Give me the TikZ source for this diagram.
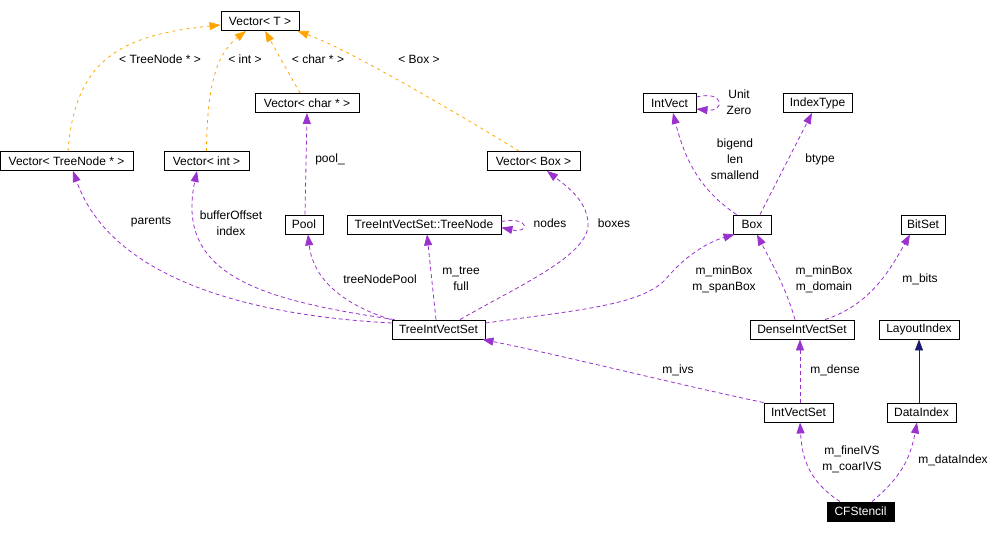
\documentclass[tikz,border=0pt]{standalone}
\usepackage{fontspec}
\setmainfont{Liberation Sans}
\usetikzlibrary{arrows.meta,calc}
\definecolor{dorange}{RGB}{255,165,0}
\definecolor{dpurple}{RGB}{154,50,205}
\definecolor{dnavy}{RGB}{25,25,112}
\begin{document}
\begin{tikzpicture}[x=1pt,y=-1pt,
  every node/.style={font=\fontsize{12}{16}\selectfont},
  cls/.style={draw=black, line width=0.9pt, minimum height=19pt, inner sep=0pt, fill=white},
  lbl/.style={inner sep=0pt, align=center},
  tmpl/.style={draw=dorange, line width=0.8pt, dash pattern=on 3pt off 4pt, -{Triangle[length=11pt,width=8pt,fill=dorange]}},
  use/.style={draw=dpurple, line width=0.8pt, dash pattern=on 4pt off 3pt, -{Triangle[length=11pt,width=8pt,fill=dpurple]}},
  inh/.style={draw=dnavy, line width=0.9pt, -{Triangle[length=11pt,width=8pt,fill=dnavy]}}]
\useasboundingbox (0,0) rectangle (1006,533);
\fill[white] (0,0) rectangle (1006,533);

% nodes
\node[cls, minimum width=78pt]  (vT)     at (260,21)    {Vector< T >};
\node[cls, minimum width=133pt] (vTN)    at (66.5,161)  {Vector< TreeNode * >};
\node[cls, minimum width=85pt]  (vInt)   at (206.5,161) {Vector< int >};
\node[cls, minimum width=104pt] (vChar)  at (307,103)   {Vector< char * >};
\node[cls, minimum width=93pt]  (vBox)   at (533.5,161) {Vector< Box >};
\node[cls, minimum width=38pt]  (pool)   at (304,224.5) {Pool};
\node[cls, minimum width=154pt] (tnode)  at (424,224.5) {TreeIntVectSet::TreeNode};
\node[cls, minimum width=53pt]  (intvect) at (669.5,103) {IntVect};
\node[cls, minimum width=69pt]  (idxtype) at (817.5,103) {IndexType};
\node[cls, minimum width=38pt]  (box)    at (752,224.5) {Box};
\node[cls, minimum width=44pt]  (bitset) at (923,224.5) {BitSet};
\node[cls, minimum width=93pt]  (tivs)   at (438.5,329.5) {TreeIntVectSet};
\node[cls, minimum width=104pt] (dense)  at (802,329.5) {DenseIntVectSet};
\node[cls, minimum width=80pt]  (layout) at (919,329.5) {LayoutIndex};
\node[cls, minimum width=69pt]  (ivs)    at (798.5,412.5) {IntVectSet};
\node[cls, minimum width=69pt]  (dataidx) at (921.5,412.5) {DataIndex};
\node[cls, minimum width=67pt, fill=black, text=white] (cfs) at (860.5,511.5) {CFStencil};

% template edges
\draw[tmpl] ([xshift=1.5pt]vTN.north) .. controls (75,60) and (120,35) .. ([yshift=-4pt]vT.west);
\draw[tmpl] (vInt.north) .. controls (207,90) and (215,55) .. ([xshift=-14pt]vT.south);
\draw[tmpl] ([xshift=-7pt]vChar.north) -- ([xshift=5pt]vT.south);
\draw[tmpl] ([xshift=-14.5pt]vBox.north) .. controls (460,115) and (350,50) .. ([xshift=-2pt]vT.south east);
\node[lbl] (l1) at (160,59) {< TreeNode * >};
\node[lbl] (l2) at (245,59) {< int >};
\node[lbl] (l3) at (318,59) {< char * >};
\node[lbl] (l4) at (419,59) {< Box >};

% usage edges
\draw[use] ([yshift=6.5pt]tivs.west) .. controls (240,315) and (110,275) .. ([xshift=6.5pt]vTN.south);
\node[lbl] (l5) at (151,222) {parents};
\draw[use] ([xshift=3pt]tivs.north west) .. controls (260,300) and (175,275) .. ([xshift=-9.5pt]vInt.south);
\node[lbl] (l6) at (231,223) {bufferOffset\\index};
\draw[use] ([xshift=-1pt]tivs.north west) .. controls (330,300) and (312,270) .. ([xshift=4pt]pool.south);
\node[lbl] (l7) at (380,279) {treeNodePool};
\draw[use] ([xshift=1pt]pool.north) -- (vChar.south);
\node[lbl] (l8) at (330,159) {pool\_};
\draw[use] ([xshift=-2.5pt]tivs.north) -- ([xshift=3pt]tnode.south);
\node[lbl] (l9) at (461,279) {m\_tree\\full};
\draw[use] ([yshift=3pt]tnode.east) .. controls (530,216) and (530,234) .. ([yshift=-3pt]tnode.east);
\node[lbl] (l10) at (550,223) {nodes};
\draw[use] ([xshift=21.5pt]tivs.north) .. controls (520,285) and (590,255) .. (588,223) .. controls (587,200) and (565,185) .. ([xshift=13.5pt]vBox.south);
\node[lbl] (l11) at (614,223) {boxes};
\draw[use] ([yshift=6.5pt]tivs.east) .. controls (580,310) and (640,305) .. (665,280) .. controls (690,250) and (715,240) .. ([xshift=2pt]box.south west);
\node[lbl] (l12) at (724,279) {m\_minBox\\m\_spanBox};
\draw[use] ([xshift=-7pt]dense.north) .. controls (785,285) and (770,260) .. ([xshift=5pt]box.south);
\node[lbl] (l13) at (824,279) {m\_minBox\\m\_domain};
\draw[use] ([xshift=23pt]dense.north) .. controls (870,305) and (890,270) .. ([xshift=-13pt]bitset.south);
\node[lbl] (l14) at (920,279) {m\_bits};
\draw[use] ([xshift=4pt]box.north west) .. controls (700,190) and (685,160) .. ([xshift=3.5pt]intvect.south);
\node[lbl] (l15) at (735,159) {bigend\\len\\smallend};
\draw[use] ([xshift=8pt]box.north) -- ([xshift=-5.5pt]idxtype.south);
\node[lbl] (l16) at (820,159) {btype};
\draw[use] ([yshift=6pt]intvect.east) .. controls (725,90) and (725,112) .. ([yshift=-6pt]intvect.east);
\node[lbl] (l17) at (739,102) {Unit\\Zero};
\draw[use] (ivs.north west) .. controls (680,385) and (560,355) .. ([xshift=-3pt]tivs.south east);
\node[lbl] (l18) at (678,370) {m\_ivs};
\draw[use] ([xshift=1.5pt]ivs.north) -- ([xshift=-2pt]dense.south);
\node[lbl] (l19) at (835,370) {m\_dense};
\draw[inh] (dataidx.north -| layout.south) -- (layout.south);
\draw[use] ([xshift=-20.5pt]cfs.north) .. controls (810,482) and (802,460) .. ([xshift=1.5pt]ivs.south);
\node[lbl] (l20) at (852,459) {m\_fineIVS\\m\_coarIVS};
\draw[use] ([xshift=11.5pt]cfs.north) .. controls (900,478) and (910,460) .. ([xshift=-4.5pt]dataidx.south);
\node[lbl] (l21) at (953,460) {m\_dataIndex};
\end{tikzpicture}
\end{document}
